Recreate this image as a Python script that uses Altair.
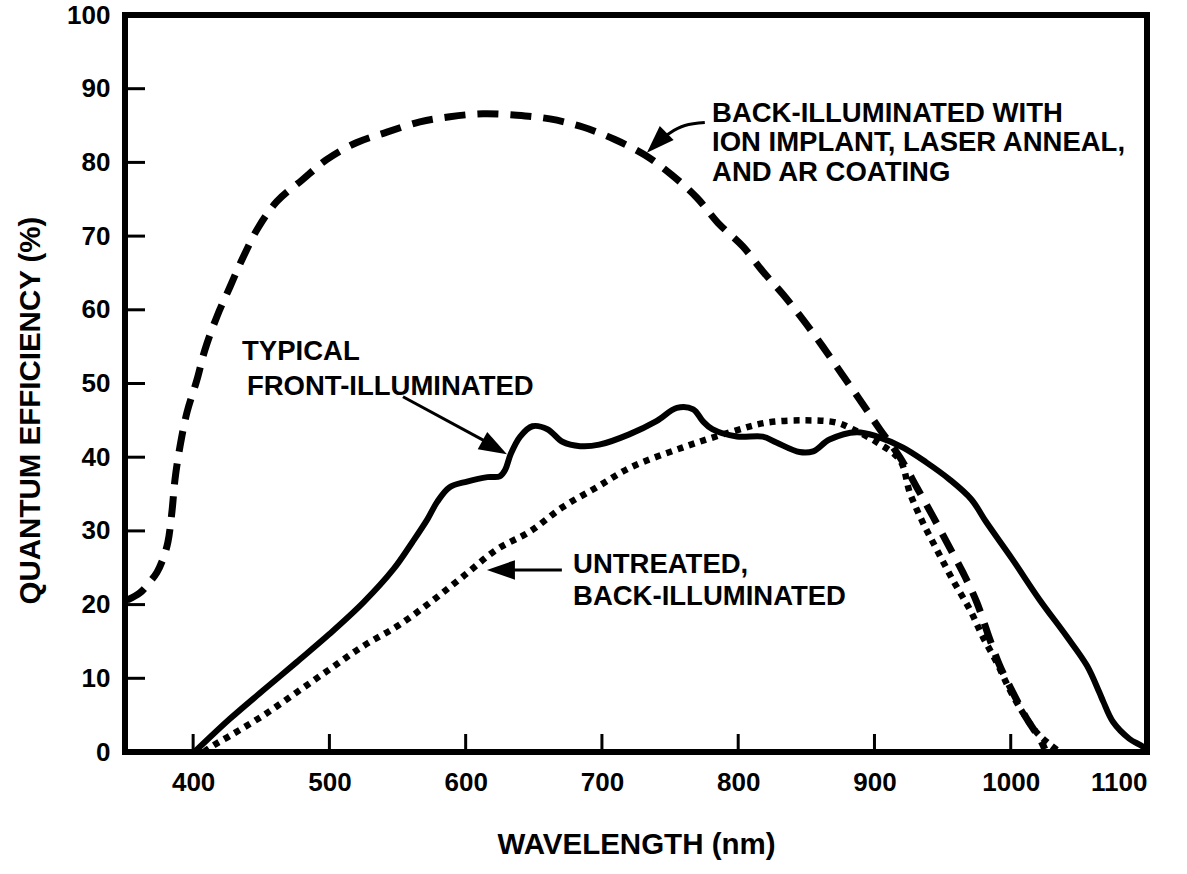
import altair as alt
import pandas as pd

# ---- curve data (wavelength nm, quantum efficiency %) ----
front_wl = [401, 427, 451, 476, 500, 525, 547, 561, 572, 579, 588, 601, 616, 625, 629, 633,
            640, 649, 660, 671, 684, 698, 720, 740, 755, 767, 774, 781, 799, 818, 828, 845,
            855, 867, 887, 902, 921, 938, 955, 971, 982, 1001, 1021, 1041, 1056, 1065, 1068,
            1075, 1087, 1097, 1100]
front_qe = [0.0, 4.5, 8.3, 12.2, 16.0, 20.3, 24.8, 28.5, 31.6, 33.9, 35.9, 36.7, 37.3, 37.4, 38.3, 40.4,
            42.8, 44.2, 43.8, 42.1, 41.5, 41.7, 43.1, 44.9, 46.7, 46.5, 44.9, 43.8, 42.8, 42.8, 42.0, 40.7,
            40.8, 42.4, 43.4, 42.8, 41.3, 39.3, 37.0, 34.3, 31.2, 26.2, 20.7, 15.7, 11.7, 8.1, 6.8,
            4.1, 1.8, 0.7, 0.0]

untreated_wl = [408, 414, 427, 451, 476, 500, 525, 550, 574, 598, 623, 647, 671, 696, 721, 759,
                796, 821, 849, 872, 884, 902, 918.7, 926.1, 935.6, 945.9, 957.6, 970.1, 979.6, 989.9,
                999.4, 1009.0, 1019.3, 1028.8, 1036]
untreated_qe = [0.0, 0.8, 2.2, 4.9, 8.1, 11.2, 14.4, 17.1, 20.3, 23.8, 27.5, 29.9, 33.2, 35.9, 38.6, 41.3,
                43.5, 44.7, 45.0, 44.7, 43.8, 42.0, 39.6, 35.1, 31.1, 27.4, 23.3, 19.3, 15.6, 12.1,
                8.4, 5.3, 2.6, 1.0, 0.0]

treated_wl = [351.5, 361.0, 368.3, 373.5, 377.9, 381.5, 384.5, 386.7, 390.4, 395.5, 402.8, 408.7, 417.5,
              427.0, 436.6, 447.6, 461.5, 479.9, 498.2, 520.2, 542.2, 566.4, 588.4, 612.7, 637.6, 661.8,
              686.0, 709.5, 731.5, 751.3, 769.7, 785.1, 803.4, 818.1, 832.8, 847.4, 862.1, 876.8, 890.7,
              903.9, 918.6, 931.1, 942.8, 953.8, 964.8, 975.1, 984.6, 992.0, 1001.5, 1011.8, 1021.3, 1025]
treated_qe = [20.6, 21.6, 23.1, 24.4, 26.2, 28.5, 32.7, 37.0, 41.5, 46.1, 50.5, 54.6, 59.1,
              63.1, 67.1, 71.1, 74.7, 77.6, 80.4, 82.7, 84.1, 85.5, 86.2, 86.6, 86.4, 85.9,
              84.8, 83.1, 81.0, 78.3, 75.2, 71.8, 68.6, 65.2, 62.1, 58.7, 55.0, 51.1, 47.4,
              43.8, 40.0, 35.9, 32.0, 28.2, 24.4, 20.3, 15.3, 11.7, 8.1, 4.5, 1.8, 0.4]

# ---- axes ----
x_label_values = [400, 500, 600, 700, 800, 900, 1000, 1100]
y_label_values = [0, 10, 20, 30, 40, 50, 60, 70, 80, 90, 100]
x_tick_values = [400, 500, 600, 700, 800, 900, 1000]
y_tick_values = [10, 20, 30, 40, 50, 60, 70, 80, 90]

# ---- annotations ----
label_text = ["BACK-ILLUMINATED WITH", "ION IMPLANT, LASER ANNEAL,", "AND AR COATING",
              "TYPICAL", "FRONT-ILLUMINATED", "UNTREATED,", "BACK-ILLUMINATED"]
label_wl = [780.8, 780.8, 780.8, 435.9, 439.5, 678.8, 678.8]
label_qe = [86.5, 82.6, 78.6, 54.3, 49.5, 25.4, 21.0]

shaft_id = [1, 1, 1, 1, 2, 2, 3, 3]
shaft_wl = [775.5, 760.9, 749.9, 741.0, 554.0, 622.0, 670.6, 625.0]
shaft_qe = [85.4, 85.0, 84.0, 82.7, 48.2, 41.4, 24.7, 24.7]

head_wl = [733.0, 630.3, 615.6]
head_qe = [81.3, 40.4, 24.7]
head_angle = [135, 29, 180]

FONT = "Liberation Sans"

xs = alt.Scale(domain=[350, 1100], nice=False, zero=False)
ys = alt.Scale(domain=[0, 100], nice=False, zero=True)

front_df = pd.DataFrame({"wl": front_wl, "qe": front_qe})
untreated_df = pd.DataFrame({"wl": untreated_wl, "qe": untreated_qe})
treated_df = pd.DataFrame({"wl": treated_wl, "qe": treated_qe})

X = alt.X("wl:Q", scale=xs,
          axis=alt.Axis(values=x_label_values, format="d", title="WAVELENGTH (nm)", labelPadding=17,
                        titlePadding=35))
Y = alt.Y("qe:Q", scale=ys,
          axis=alt.Axis(values=y_label_values, format="d", title="QUANTUM EFFICIENCY (%)", labelPadding=15,
                        titleX=-86, titleY=395, titleBaseline="alphabetic"))

front = alt.Chart(front_df).mark_line(color="black", strokeWidth=6, interpolate="catmull-rom").encode(x=X, y=Y)
untreated = alt.Chart(untreated_df).mark_line(color="black", strokeWidth=6.5, strokeDash=[6, 6],
                                              strokeCap="butt", interpolate="catmull-rom").encode(x="wl:Q", y="qe:Q")
treated = alt.Chart(treated_df).mark_line(color="black", strokeWidth=7, strokeDash=[21, 12],
                                          strokeCap="butt", interpolate="catmull-rom").encode(x="wl:Q", y="qe:Q")

xt = alt.Chart(pd.DataFrame({"wl": x_tick_values})).mark_rule(color="black", strokeWidth=3).encode(
    x="wl:Q", y=alt.value(737), y2=alt.value(719))
yt = alt.Chart(pd.DataFrame({"qe": y_tick_values})).mark_rule(color="black", strokeWidth=3).encode(
    y="qe:Q", x=alt.value(0), x2=alt.value(20))

labels = alt.Chart(pd.DataFrame({"wl": label_wl, "qe": label_qe, "t": label_text})).mark_text(
    align="left", baseline="middle", font=FONT, fontWeight="bold", fontSize=27.5, color="black").encode(
    x="wl:Q", y="qe:Q", text="t:N")

shafts = alt.Chart(pd.DataFrame({"id": shaft_id, "wl": shaft_wl, "qe": shaft_qe})).mark_line(
    color="black", strokeWidth=3, interpolate="monotone").encode(
    x="wl:Q", y="qe:Q", detail="id:N", order=alt.Order("id:Q"))

heads = alt.Chart(pd.DataFrame({"wl": head_wl, "qe": head_qe, "a": head_angle})).mark_point(
    shape="M 0 0 L -2 -0.7 L -2 0.7 Z", filled=True, size=784, color="black", opacity=1, strokeWidth=0).encode(
    x="wl:Q", y="qe:Q", angle=alt.Angle("a:Q", scale=None))

chart = alt.layer(front, untreated, treated, xt, yt, shafts, heads, labels).properties(
    width=1022, height=737,
    autosize=alt.AutoSizeParams(type="none"),
    padding={"left": 125, "top": 15, "right": 40, "bottom": 122},
    background="white",
).configure_view(stroke="black", strokeWidth=6).configure_axis(
    grid=False, domain=False, ticks=False, tickSize=0,
    labelFont=FONT, labelFontWeight="bold", labelFontSize=26, labelColor="black",
    titleFont=FONT, titleFontWeight="bold", titleFontSize=29.5, titleColor="black",
)

chart.save("out.html", embed_options={"renderer": "svg", "actions": False})
